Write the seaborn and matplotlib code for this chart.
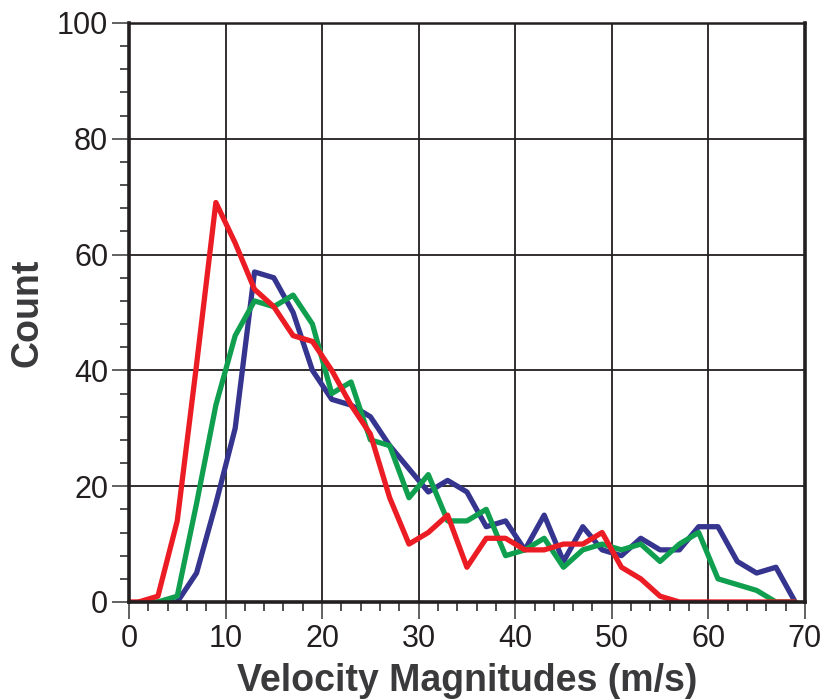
import numpy as np
import pandas as pd
import seaborn as sns
import matplotlib.pyplot as plt
from matplotlib.ticker import MultipleLocator

# bin centres (m/s); first point at 0 only used by the red series
speed = [0, 1, 3, 5, 7, 9, 11, 13, 15, 17, 19, 21, 23, 25, 27, 29, 31, 33, 35,
         37, 39, 41, 43, 45, 47, 49, 51, 53, 55, 57, 59, 61, 63, 65, 67, 69]

blue_counts = [np.nan, np.nan, 0, 0, 5, 17, 30, 57, 56, 50, 40, 35, 34, 32, 27, 23, 19, 21, 19,
               13, 14, 9, 15, 7, 13, 9, 8, 11, 9, 9, 13, 13, 7, 5, 6, 0]
green_counts = [np.nan, 0, 0, 1, 17, 34, 46, 52, 51, 53, 48, 36, 38, 28, 27, 18, 22, 14, 14,
                16, 8, 9, 11, 6, 9, 10, 9, 10, 7, 10, 12, 4, 3, 2, 0, 0]
red_counts = [0, 0, 1, 14, 41, 69, 62, 54, 51, 46, 45, 40, 34, 29, 18, 10, 12, 15, 6,
              11, 11, 9, 9, 10, 10, 12, 6, 4, 1, 0, 0, 0, 0, 0, 0, 0]

series_names = ["blue", "green", "red"]
series_colors = ["#35348f", "#0f9f4f", "#ec1c24"]

df = pd.DataFrame({
    "speed": speed * 3,
    "count": blue_counts + green_counts + red_counts,
    "series": [n for n in series_names for _ in speed],
})

sns.set_style("white")
plt.rcParams["font.family"] = ["Liberation Sans", "DejaVu Sans"]

fig = plt.figure(figsize=(8.23, 6.99), dpi=100)
ax = fig.add_axes([0.1567, 0.1388, 0.8213, 0.8283])

sns.lineplot(data=df, x="speed", y="count", hue="series", hue_order=series_names,
             palette=series_colors, linewidth=3.8, legend=False, ax=ax)

ax.set_xlim(0, 70)
ax.set_ylim(0, 100)
ax.xaxis.set_major_locator(MultipleLocator(10))
ax.xaxis.set_minor_locator(MultipleLocator(2))
ax.yaxis.set_major_locator(MultipleLocator(20))
ax.yaxis.set_minor_locator(MultipleLocator(4))

ax.grid(which="major", color="#231f20", linewidth=1.3)
ax.set_axisbelow(True)

for side in ["left", "bottom", "right"]:
    ax.spines[side].set_linewidth(2.6)
    ax.spines[side].set_color("#231f20")
ax.spines["top"].set_linewidth(1.8)
ax.spines["top"].set_color("#231f20")

ax.tick_params(axis="both", which="major", direction="out", length=12, width=1.3,
               color="#555555", labelsize=22, labelcolor="#231f20",
               left=True, bottom=True)
ax.tick_params(axis="x", which="major", pad=4)
ax.tick_params(axis="y", which="major", pad=3)
ax.tick_params(axis="both", which="minor", direction="out", length=6.5, width=1.1,
               color="#231f20", left=True, bottom=True)

ax.set_xlabel("Velocity Magnitudes (m/s)", fontsize=27, fontweight="bold",
              color="#3a3a3c", labelpad=6)
ax.set_ylabel("Count", fontsize=27, fontweight="bold", color="#3a3a3c", labelpad=8)

fig.savefig("out.png", dpi=100)
